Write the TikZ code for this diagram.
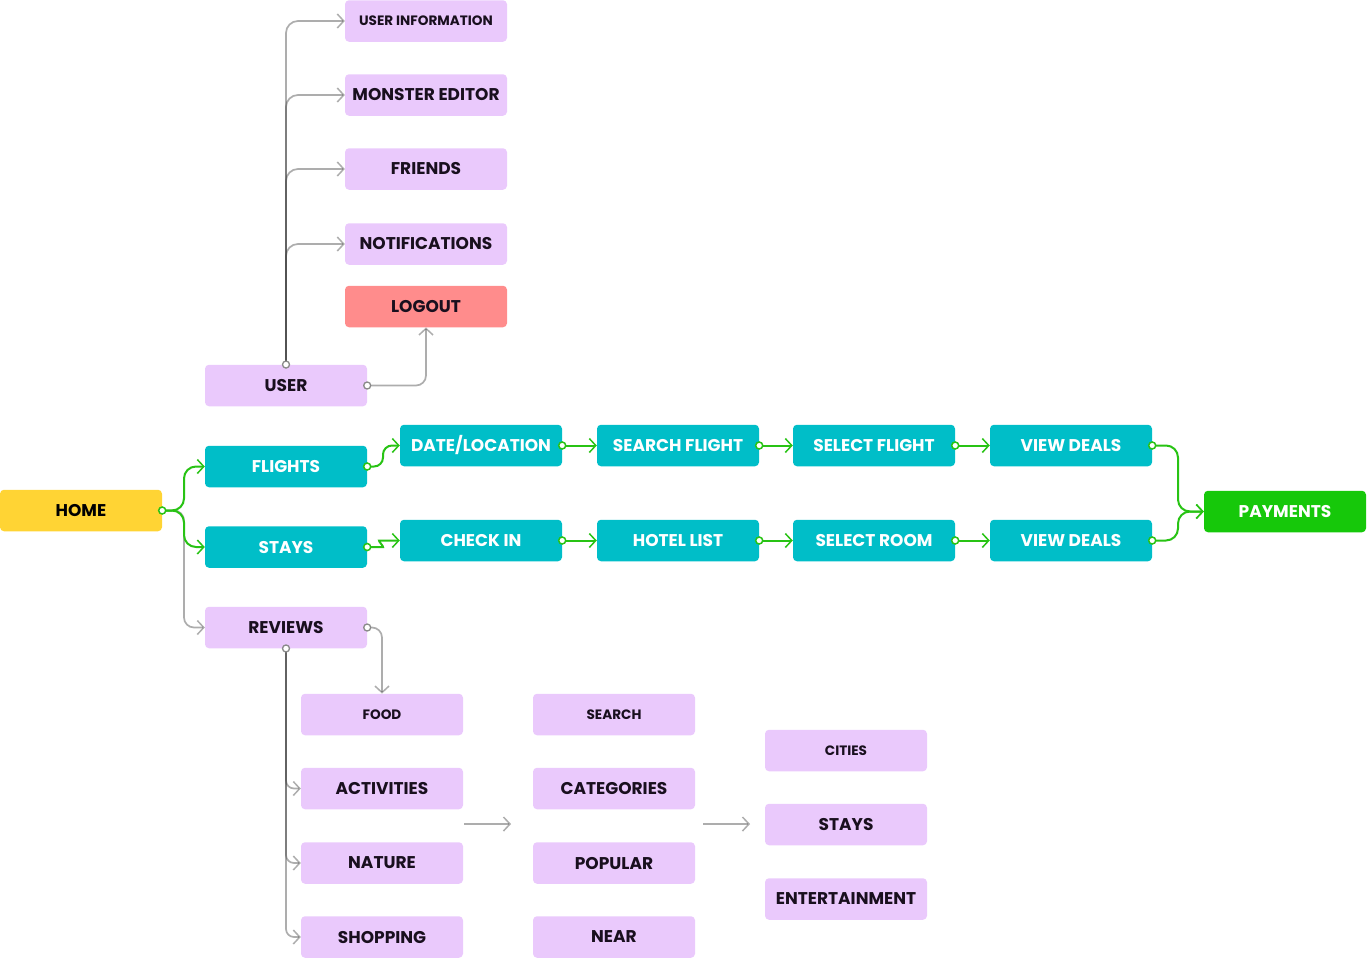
\documentclass[tikz,border=0pt]{standalone}
\usepackage{fontspec}
\setmainfont{Poppins}
\usetikzlibrary{arrows.meta}
\definecolor{lav}{RGB}{234,201,252}
\definecolor{teal1}{RGB}{0,190,200}
\definecolor{grn}{RGB}{22,200,10}
\definecolor{grnline}{RGB}{40,195,20}
\definecolor{yel}{RGB}{255,212,52}
\definecolor{redb}{RGB}{255,140,140}
\definecolor{ink}{RGB}{25,15,30}
\definecolor{conn}{RGB}{60,60,60}
\tikzset{
 box/.style={rectangle, rounded corners=4pt, minimum width=162pt, minimum height=41.5pt, inner sep=0pt, font=\fontsize{17}{19}\selectfont\bfseries},
 lbox/.style={box, fill=lav, text=ink},
 sbox/.style={lbox, font=\fontsize{13.6}{16}\selectfont\bfseries},
 tbox/.style={box, fill=teal1, text=white},
 tipg/.style={-{Straight Barb[length=6.5pt,width=14pt,line width=1.5pt]}},
 gline/.style={tipg, draw=conn, draw opacity=0.42, line width=1.7pt, rounded corners=10pt},
 fline/.style={tipg, draw=grnline, line width=2pt, rounded corners=9pt},
 gdot/.style={draw=conn!60, fill=white, line width=1.3pt},
 fdot/.style={draw=grnline, fill=white, line width=1.5pt}
}
\begin{document}
\begin{tikzpicture}[x=1pt,y=-1pt]
\useasboundingbox (0,0) rectangle (1367,959);
% user branch
\node[sbox] (uinfo) at (426,21) {USER INFORMATION};
\node[lbox] (monster) at (426,95) {MONSTER EDITOR};
\node[lbox] (friends) at (426,169) {FRIENDS};
\node[lbox] (notif) at (426,244) {NOTIFICATIONS};
\node[box, fill=redb, text=ink] (logout) at (426,306.5) {LOGOUT};
\node[lbox] (user) at (286,385.5) {USER};
% main flow
\node[box, fill=yel, text=black] (home) at (81,510.5) {HOME};
\node[tbox] (flights) at (286,466.5) {FLIGHTS};
\node[tbox] (stays) at (286,547) {STAYS};
\node[tbox] (date) at (481,445.5) {DATE/LOCATION};
\node[tbox] (sflight) at (678,445.5) {SEARCH FLIGHT};
\node[tbox] (selflight) at (874,445.5) {SELECT FLIGHT};
\node[tbox] (deals1) at (1071,445.5) {VIEW DEALS};
\node[tbox] (checkin) at (481,540.5) {CHECK IN};
\node[tbox] (hotel) at (678,540.5) {HOTEL LIST};
\node[tbox] (room) at (874,540.5) {SELECT ROOM};
\node[tbox] (deals2) at (1071,540.5) {VIEW DEALS};
\node[box, fill=grn, text=white] (pay) at (1285,511.5) {PAYMENTS};
% reviews
\node[lbox] (reviews) at (286,627.5) {REVIEWS};
\node[sbox] (food) at (382,714.5) {FOOD};
\node[lbox] (act) at (382,788.5) {ACTIVITIES};
\node[lbox] (nature) at (382,863) {NATURE};
\node[lbox] (shop) at (382,937) {SHOPPING};
\node[sbox] (search) at (614,714.5) {SEARCH};
\node[lbox] (cat) at (614,788.5) {CATEGORIES};
\node[lbox] (pop) at (614,863) {POPULAR};
\node[lbox] (near) at (614,937) {NEAR};
\node[sbox] (cities) at (846,750.5) {CITIES};
\node[lbox] (stays2) at (846,824.5) {STAYS};
\node[lbox] (ent) at (846,899) {ENTERTAINMENT};
\coordinate (a1s) at (464,824);
\coordinate (a1e) at (511,824);
\coordinate (a2s) at (703,824);
\coordinate (a2e) at (750,824);

% gray connectors
\foreach \t in {uinfo,monster,friends,notif}
  \draw[gline, rounded corners=12pt] (user.north) |- (\t.west);
\draw[gline] (user.east) -| (logout.south);
\draw[gline] (home.east) -- (184,510.5) |- (reviews.west);
\draw[gline] (reviews.east) -| (food.north);
\foreach \t in {act,nature,shop}
  \draw[gline, rounded corners=8pt] (reviews.south) |- (\t.west);
\draw[gline] (a1s) -- (a1e);
\draw[gline] (a2s) -- (a2e);
% green connectors
\draw[fline, rounded corners=12pt] (home.east) -- (184,510.5) |- (flights.west);
\draw[fline, rounded corners=12pt] (home.east) -- (184,510.5) |- (stays.west);
\draw[fline] (flights.east) -- (383,466.5) |- (date.west);
\draw[fline] (stays.east) -- (374,547) .. controls (384,547) and (378,540.5) .. (388,540.5) -- (checkin.west);
\draw[fline] (date.east) -- (sflight.west);
\draw[fline] (sflight.east) -- (selflight.west);
\draw[fline] (selflight.east) -- (deals1.west);
\draw[fline] (checkin.east) -- (hotel.west);
\draw[fline] (hotel.east) -- (room.west);
\draw[fline] (room.east) -- (deals2.west);
\draw[fline, rounded corners=12pt] (deals1.east) -- (1178,445.5) |- (pay.west);
\draw[fline, rounded corners=12pt] (deals2.east) -- (1178,540.5) |- (pay.west);
% dots
\draw[gdot] (user.north) circle (3.5);
\draw[gdot] (user.east) circle (3.5);
\draw[gdot] (reviews.east) circle (3.5);
\draw[gdot] (reviews.south) circle (3.5);
\foreach \n in {home,flights,stays,date,sflight,selflight,deals1,checkin,hotel,room,deals2}
  \draw[fdot] (\n.east) circle (3.5);
\end{tikzpicture}
\end{document}
